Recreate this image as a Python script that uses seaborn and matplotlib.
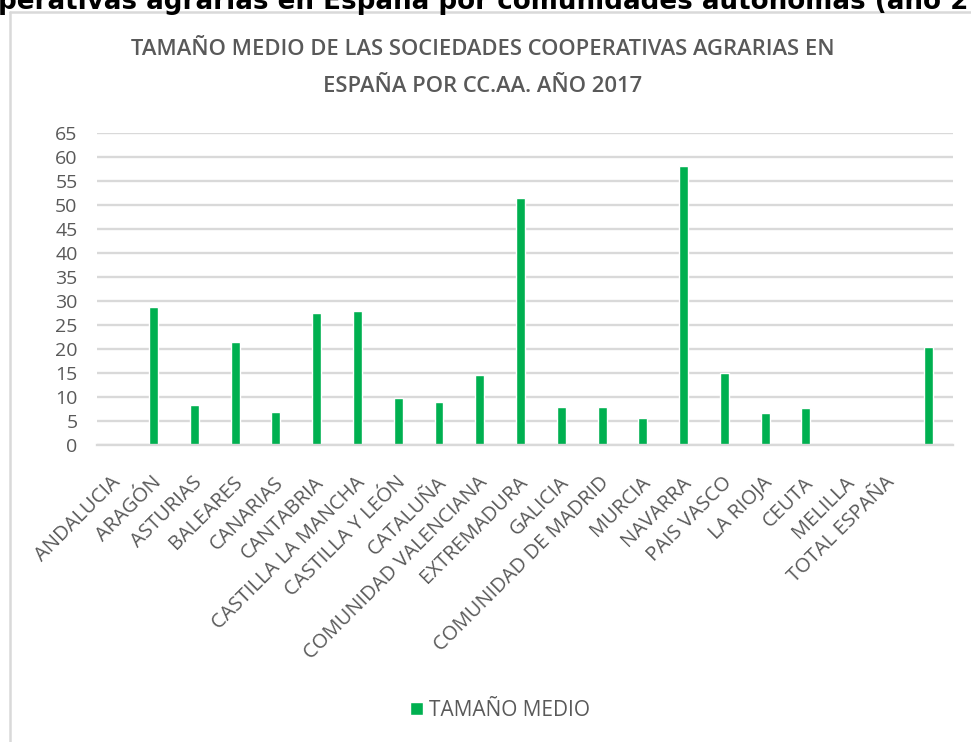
import numpy as np
import pandas as pd
import matplotlib
matplotlib.use("Agg")
import matplotlib.pyplot as plt
from matplotlib.patches import Patch
from matplotlib.lines import Line2D
import seaborn as sns

# Data (note: values sit one slot to the right,
# as in the original spreadsheet chart)
regions = ["ANDALUCIA", "ARAGÓN", "ASTURIAS", "BALEARES", "CANARIAS", "CANTABRIA",
           "CASTILLA LA MANCHA", "CASTILLA Y LEÓN", "CATALUÑA", "COMUNIDAD VALENCIANA",
           "EXTREMADURA", "GALICIA", "COMUNIDAD DE MADRID", "MURCIA", "NAVARRA",
           "PAIS VASCO", "LA RIOJA", "CEUTA", "MELILLA", "TOTAL ESPAÑA", ""]
tamano_medio = [np.nan, 28.7, 8.3, 21.4, 6.9, 27.6,
                27.9, 9.7, 8.9, 14.5,
                51.5, 8.0, 8.0, 5.6, 58.1,
                15.1, 6.7, 7.8, np.nan, np.nan, 20.5]
yticks = list(range(0, 70, 5))

series_name = "TAMAÑO MEDIO"
bar_color = "#00B050"
grey_text = "#595959"
grid_color = "#D9D9D9"

sns.set_style("white")
plt.rcParams["font.family"] = ["Open Sans", "DejaVu Sans"]

df = pd.DataFrame({"region": regions, "valor": tamano_medio, "serie": series_name})
df = df.dropna()

fig = plt.figure(figsize=(9.71, 7.42), dpi=100)
ax = fig.add_axes([97 / 971, 1 - 445 / 742, (953 - 97) / 971, (445 - 133) / 742])

# second (empty) hue level reproduces the slight left offset of the bars
sns.barplot(data=df, x="region", y="valor", hue="serie", order=regions,
            hue_order=[series_name, "_vacio"], palette=[bar_color, bar_color],
            width=0.44, dodge=True, saturation=1, legend=False, ax=ax)

ax.set_ylim(0, 65)
ax.set_yticks(yticks)
ax.yaxis.grid(True, color=grid_color, linewidth=1.7)
ax.set_axisbelow(True)
for s in ["top", "right", "left"]:
    ax.spines[s].set_visible(False)
ax.spines["bottom"].set_color(grid_color)
ax.spines["bottom"].set_linewidth(1.7)
ax.set_xlabel("")
ax.set_ylabel("")
ax.tick_params(axis="both", length=0, colors=grey_text, labelsize=14)
ax.tick_params(axis="y", pad=14)
ax.set_xticks(range(len(regions)))
ax.set_xticklabels(regions, rotation=45, ha="right", va="center",
                   rotation_mode="anchor", fontsize=14.5, color=grey_text)
ax.tick_params(axis="x", pad=25)

fig.text(483 / 971, 1 - 68 / 742,
         "TAMAÑO MEDIO DE LAS SOCIEDADES COOPERATIVAS AGRARIAS EN\nESPAÑA POR CC.AA. AÑO 2017",
         ha="center", va="center", fontsize=15.8, fontweight="semibold",
         color=grey_text, linespacing=1.95)

fig.legend(handles=[Patch(facecolor=bar_color, label=series_name)],
           loc="center", bbox_to_anchor=(500 / 971, 1 - 710 / 742), frameon=False,
           fontsize=15, handlelength=0.6, handleheight=0.6, handletextpad=0.3,
           labelcolor=grey_text)

# chart frame (only left and top edges visible in the crop)
fig.add_artist(Line2D([10 / 971, 10 / 971], [0, 1 - 12 / 742], color=grid_color, lw=1.8))
fig.add_artist(Line2D([10 / 971, 1], [1 - 12 / 742, 1 - 12 / 742], color=grid_color, lw=1.8))

# page heading above the chart, cut off by the crop
fig.text(-0.002, 1 - 9 / 742,
         "perativas agrarias en España por comunidades autónomas (año 2",
         ha="left", va="baseline", fontsize=18.8, fontweight="bold", color="black",
         family=["DejaVu Sans"])

fig.savefig("out.png", dpi=100)
